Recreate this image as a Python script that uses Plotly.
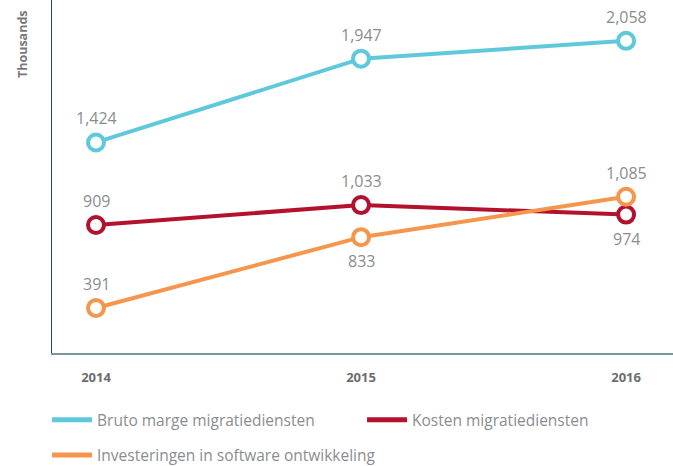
import plotly.graph_objects as go

years = [2014, 2015, 2016]
bruto = [1424, 1947, 2058]
kosten = [909, 1033, 974]
invest = [391, 833, 1085]
names = ["Bruto marge migratiediensten", "Kosten migratiediensten", "Investeringen in software ontwikkeling"]
colors = ["#5fc9dc", "#b3122e", "#f6964c"]
label_pos = [[1, 1, 1], [1, 1, -1], [1, -1, 1]]

series = [bruto, kosten, invest]
legends = ["legend", "legend", "legend2"]

fig = go.Figure()
for s, n, c in zip(series, names, colors):
    fig.add_trace(go.Scatter(
        x=years, y=s, name=n, mode="lines+markers", showlegend=False,
        line=dict(color=c, width=4),
        marker=dict(size=16, color="white", line=dict(color=c, width=4)),
    ))
# legend-only entries (line symbol)
for n, c, lg in zip(names, colors, legends):
    fig.add_trace(go.Scatter(
        x=[None], y=[None], name=n, mode="lines",
        line=dict(color=c, width=5), legend=lg,
    ))

for s, pos in zip(series, label_pos):
    for x, v, p in zip(years, s, pos):
        fig.add_annotation(x=x, y=v, text=f"{v:,}", showarrow=False,
                           yshift=24 * p, font=dict(size=16, color="#8a8d91", family="Open Sans"))

fig.add_annotation(xref="paper", yref="paper", x=0, y=1, xshift=-30, yshift=-44,
                   text="<b>Thousands</b>", textangle=-90, showarrow=False,
                   xanchor="center", yanchor="middle",
                   font=dict(size=12.5, color="#77797c", family="Open Sans"))

leg_common = dict(orientation="h", xanchor="left", yanchor="middle",
                  xref="paper", yref="paper", itemwidth=40,
                  font=dict(size=15.5, color="#8a8d91", family="Open Sans"),
                  bgcolor="rgba(0,0,0,0)")

fig.update_layout(
    width=673, height=466,
    margin=dict(l=52, r=0, t=0, b=113, autoexpand=False),
    plot_bgcolor="white", paper_bgcolor="white",
    font=dict(family="Open Sans", color="#8a8d91"),
    xaxis=dict(range=[2013.834, 2016.177], tickvals=years,
               ticktext=[f"<b>{y}</b>" for y in years],
               showgrid=False, zeroline=False, showline=True,
               linecolor="#7a959b", linewidth=2, ticks="",
               ticklabelstandoff=11,
               tickfont=dict(size=13, color="#6b6d70", family="Open Sans")),
    yaxis=dict(range=[110, 2313], showgrid=False, zeroline=False, showline=True,
               linecolor="#1d4654", linewidth=1, showticklabels=False, ticks=""),
    legend=dict(x=-0.008, y=-0.19, entrywidth=260, entrywidthmode="pixels", **leg_common),
    legend2=dict(x=-0.008, y=-0.29, **leg_common),
)

fig.write_html("out.html")
